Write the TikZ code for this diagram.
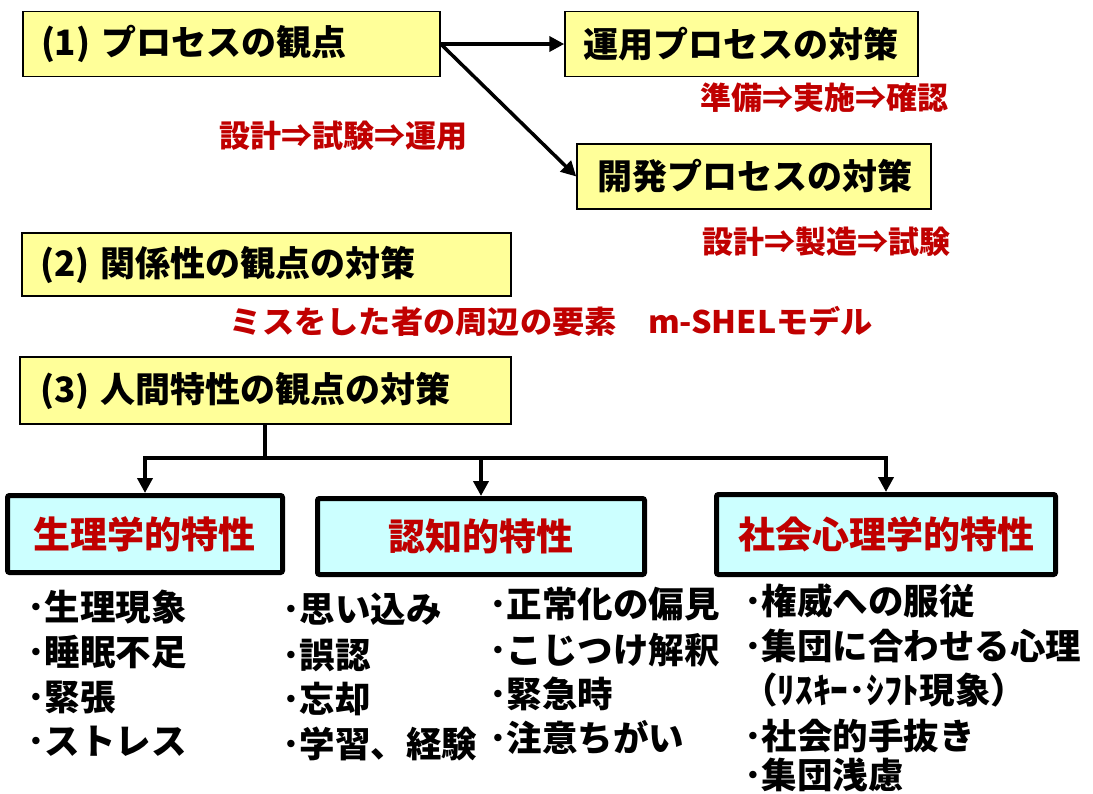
\documentclass[tikz,border=0pt]{standalone}
\usepackage{fontspec}
\usepackage{graphicx}
\newfontfamily\jp{Noto Sans CJK JP}
\usetikzlibrary{arrows.meta}
\definecolor{yfill}{HTML}{FFFF99}
\definecolor{cfill}{HTML}{CCFFFF}
\definecolor{rtext}{HTML}{C00000}
\newcommand{\fs}[1]{\fontsize{#1}{#1}\selectfont}
\tikzset{
  ybox/.style={draw=black, fill=yfill, line width=1.5pt, align=left, inner ysep=0pt,
    font=\jp\bfseries\fs{35}},
  cbox/.style={draw=black, fill=cfill, line width=5pt, rounded corners=2pt, inner sep=0pt,
    text=rtext, font=\jp\bfseries\fs{37}},
  rlabel/.style={text=rtext, inner sep=0pt, font=\jp\bfseries\fs{31}},
  item/.style={inner sep=0pt, anchor=west, font=\jp\bfseries\fs{35.5}},
  conn/.style={line width=4pt},
  arr/.style={line width=4pt, -{Triangle[length=15pt,width=15pt]}},
  arrthin/.style={line width=3.5pt, -{Triangle[length=15pt,width=15pt]}}
}
\begin{document}
\begin{tikzpicture}[x=1pt,y=-1pt]
\path[use as bounding box, fill=white] (0,0) rectangle (1093,793);

% top section
\node[ybox, minimum width=417pt, minimum height=65pt, inner xsep=18pt, text width=381pt] (b1) at (231.5,44) {(1) プロセスの観点};
\node[ybox, minimum width=353pt, minimum height=65pt, inner xsep=18pt, text width=317pt] (r1) at (741.5,44) {運用プロセスの対策};
\node[ybox, minimum width=354pt, minimum height=65pt, inner xsep=20pt, text width=314pt] (r2) at (754,176.5) {開発プロセスの対策};
\draw[arr] (b1.east) -- (r1.west);
\draw[arrthin] (b1.east) -- (r2.west);

\node[rlabel] (t1) at (824,98) {準備⇒実施⇒確認};
\node[rlabel] (t2) at (343.5,136) {設計⇒試験⇒運用};
\node[rlabel] (t3) at (826,242) {設計⇒製造⇒試験};

% (2)
\node[ybox, minimum width=489pt, minimum height=63pt, inner xsep=18pt, text width=453pt] (b2) at (266.5,264.5) {(2) 関係性の観点の対策};
\node[rlabel] (t4) at (551.5,321) {\resizebox{643pt}{\height}{ミスをした者の周辺の要素\hspace{30pt}m-SHELモデル}};

% (3)
\node[ybox, minimum width=491pt, minimum height=67pt, inner xsep=20pt, text width=451pt] (b3) at (265.5,390.5) {(3) 人間特性の観点の対策};

\node[cbox, minimum width=275pt, minimum height=77pt] (c1) at (145,534) {生理学的特性};
\node[cbox, minimum width=327pt, minimum height=76pt] (c2) at (481,536.5) {認知的特性};
\node[cbox, minimum width=339pt, minimum height=80pt] (c3) at (886,534.5) {社会心理学的特性};

\coordinate (jn) at (265,458);
\draw[conn] (b3.south -| jn) -- (jn);
\draw[conn, line cap=rect] (c1.north |- jn) -- (c3.north |- jn);
\draw[arr] (c1.north |- jn) -- (c1.north);
\draw[arr] (c2.north |- jn) -- (c2.north);
\draw[arr] (c3.north |- jn) -- (c3.north);

% lists
\node[item] (a1) at (27,607) {･生理現象};
\node[item] (a2) at (27,652) {･睡眠不足};
\node[item] (a3) at (27,697) {･緊張};
\node[item] (a4) at (27,741) {･ストレス};

\node[item] (k1) at (282,609) {･思い込み};
\node[item] (k2) at (282,655) {･誤認};
\node[item] (k3) at (282,699) {･忘却};
\node[item] (k4) at (282,744) {･学習、経験};

\node[item] (n1) at (489,604) {･正常化の偏見};
\node[item] (n2) at (489,650) {･こじつけ解釈};
\node[item] (n3) at (489,694) {･緊急時};
\node[item] (n4) at (489,738) {･注意ちがい};

\node[item] (s1) at (744,601) {･権威への服従};
\node[item] (s2) at (744,646) {･集団に合わせる心理};
\node[item] (s3) at (742,690) {（ﾘｽｷｰ･ｼﾌﾄ現象）};
\node[item] (s4) at (744,736) {･社会的手抜き};
\node[item] (s5) at (744,775) {･集団浅慮};
\end{tikzpicture}
\end{document}
